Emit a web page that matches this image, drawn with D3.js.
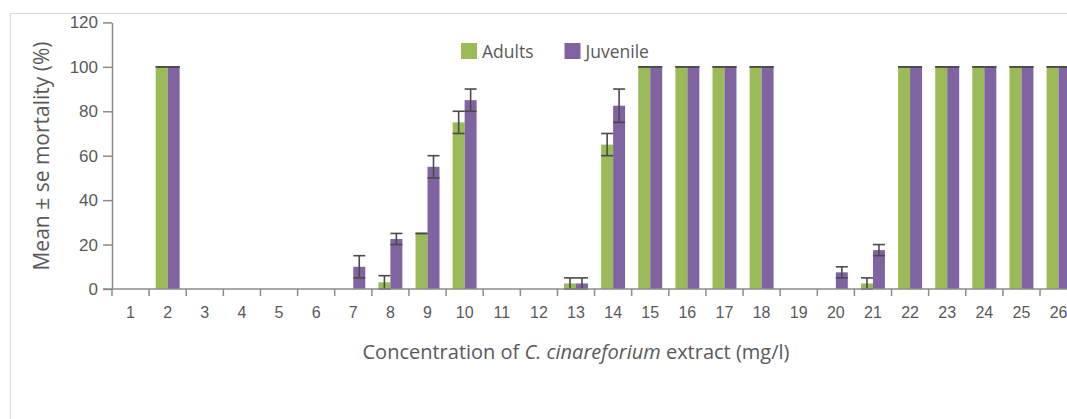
<!DOCTYPE html>
<html lang="en">
<head>
	<meta charset="UTF-8"/>
	<title>Mean mortality by concentration</title>
	<script src="https://d3js.org/d3.v7.min.js"></script>
	<style>
		body { margin:0; background:#fff; }
		svg { display:block; font-family:"Open Sans", sans-serif; }
	</style>
</head>
<body>
<script>
	var w = 1067;	// Width of the SVG
	var h = 419;	// Height of the SVG

	// Categories on the x axis
	var concentrations = ["1","2","3","4","5","6","7","8","9","10","11","12","13",
		"14","15","16","17","18","19","20","21","22","23","24","25","26"];
	var seriesNames = ["Adults","Juvenile"];
	// Mean mortality (%)
	var adults   = [0,100,0,0,0,0,0,3,25,75,0,0,2.5,65,100,100,100,100,0,0,2.5,100,100,100,100,100];
	var juvenile = [0,100,0,0,0,0,10,22.5,55,85,0,0,2.5,82.5,100,100,100,100,0,7.5,17.5,100,100,100,100,100];
	// Standard error
	var adultsSe   = [0,0,0,0,0,0,0,3,0,5,0,0,2.5,5,0,0,0,0,0,0,2.5,0,0,0,0,0];
	var juvenileSe = [0,0,0,0,0,0,5,2.5,5,5,0,0,2.5,7.5,0,0,0,0,0,2.5,2.5,0,0,0,0,0];
	var yTicks = [0,20,40,60,80,100,120];

	var colors = {Adults:"#9bbb59", Juvenile:"#8064a2"};
	var plotLeft = 112, plotBottom = 289, plotTop = 22.4, step = 37.12;

	// build rows from the arrays
	var rows = concentrations.map(function(c,i){
		return {c:c, vals:[
			{s:"Adults", v:adults[i], e:adultsSe[i]},
			{s:"Juvenile", v:juvenile[i], e:juvenileSe[i]}
		]};
	});

	var xScale = d3.scaleBand()
		.domain(concentrations)
		.range([plotLeft, plotLeft + step*concentrations.length]);

	var x1 = d3.scaleBand()
		.domain(seriesNames)
		.range([0, xScale.bandwidth()])
		.paddingOuter(0.55);

	var yScale = d3.scaleLinear()
		.domain([0,120])
		.range([plotBottom, plotTop]);

	var svg = d3.select("body")
		.append("svg")
		.attr("width", w)
		.attr("height", h);

	// outer frame (runs off the right and bottom edges)
	svg.append("rect")
		.attr("x", 10.5).attr("y", 13.5)
		.attr("width", 1200).attr("height", 600)
		.attr("fill", "none")
		.attr("stroke", "#d9d9d9");

	// bars
	var groups = svg.selectAll("g.grp")
		.data(rows)
		.enter()
		.append("g")
		.attr("class","grp")
		.attr("transform", function(d){ return "translate(" + xScale(d.c) + ",0)"; });

	groups.selectAll("rect")
		.data(function(d){ return d.vals; })
		.enter()
		.append("rect")
		.attr("x", function(d){ return x1(d.s); })
		.attr("y", function(d){ return yScale(d.v); })
		.attr("width", x1.bandwidth())
		.attr("height", function(d){ return plotBottom - yScale(d.v); })
		.attr("fill", function(d){ return colors[d.s]; });

	// error bars (cap as wide as the bar)
	var eb = groups.selectAll("g.err")
		.data(function(d){ return d.vals.filter(function(v){ return v.v > 0; }); })
		.enter()
		.append("g")
		.attr("class","err")
		.attr("stroke", "#4a4a4a")
		.attr("stroke-width", 1.6);

	eb.append("line")
		.attr("x1", function(d){ return x1(d.s) + x1.bandwidth()/2; })
		.attr("x2", function(d){ return x1(d.s) + x1.bandwidth()/2; })
		.attr("y1", function(d){ return yScale(d.v + d.e); })
		.attr("y2", function(d){ return yScale(Math.max(0, d.v - d.e)); });
	eb.append("line")
		.attr("x1", function(d){ return x1(d.s); })
		.attr("x2", function(d){ return x1(d.s) + x1.bandwidth(); })
		.attr("y1", function(d){ return yScale(d.v + d.e); })
		.attr("y2", function(d){ return yScale(d.v + d.e); });
	eb.append("line")
		.attr("x1", function(d){ return x1(d.s); })
		.attr("x2", function(d){ return x1(d.s) + x1.bandwidth(); })
		.attr("y1", function(d){ return yScale(Math.max(0, d.v - d.e)); })
		.attr("y2", function(d){ return yScale(Math.max(0, d.v - d.e)); });

	// y axis
	var yAxis = d3.axisLeft(yScale)
		.tickValues(yTicks)
		.tickSize(9)
		.tickSizeOuter(0)
		.tickPadding(5);
	var gy = svg.append("g")
		.attr("transform", "translate(" + plotLeft + ",0)")
		.call(yAxis);
	gy.selectAll("path, line").attr("stroke", "#8c8c8c").attr("stroke-width", 1.5);
	gy.selectAll("text").attr("fill", "#595959").style("font-size", "17px");

	// x axis: labels at centres, ticks at band boundaries
	var xAxis = d3.axisBottom(xScale)
		.tickSize(0)
		.tickPadding(18);
	var gx = svg.append("g")
		.attr("transform", "translate(0," + plotBottom + ")")
		.call(xAxis);
	gx.select(".domain").attr("stroke", "#8c8c8c").attr("stroke-width", 1.5)
		.attr("d", "M" + (plotLeft - 9) + ",0H" + (plotLeft + step*concentrations.length));
	gx.selectAll("text").attr("fill", "#595959").style("font-size", "16px");

	gx.selectAll("line.bnd")
		.data(concentrations)
		.enter()
		.append("line")
		.attr("class","bnd")
		.attr("x1", function(d){ return xScale(d); })
		.attr("x2", function(d){ return xScale(d); })
		.attr("y1", 0).attr("y2", 7)
		.attr("stroke", "#8c8c8c").attr("stroke-width", 1.5);

	// legend
	var legend = svg.selectAll("g.leg")
		.data(seriesNames)
		.enter()
		.append("g")
		.attr("class","leg")
		.attr("transform", function(d,i){ return "translate(" + (461 + i*103.5) + ",43)"; });
	legend.append("rect")
		.attr("width", 16).attr("height", 16)
		.attr("fill", function(d){ return colors[d]; });
	legend.append("text")
		.attr("x", 21).attr("y", 14.5)
		.attr("fill", "#595959")
		.style("font-size", "17.5px")
		.text(function(d){ return d; });

	// axis titles
	svg.append("text")
		.attr("transform", "rotate(-90)")
		.attr("x", -156)
		.attr("y", 49)
		.attr("text-anchor", "middle")
		.attr("fill", "#595959")
		.style("font-size", "21px")
		.text("Mean \u00b1 se mortality (%)");

	var xt = svg.append("text")
		.attr("x", 576)
		.attr("y", 359)
		.attr("text-anchor", "middle")
		.attr("fill", "#595959")
		.style("font-size", "20px");
	xt.append("tspan").text("Concentration of ");
	xt.append("tspan").style("font-style", "italic").text("C. cinareforium");
	xt.append("tspan").text(" extract (mg/l)");
</script>
</body>
</html>
